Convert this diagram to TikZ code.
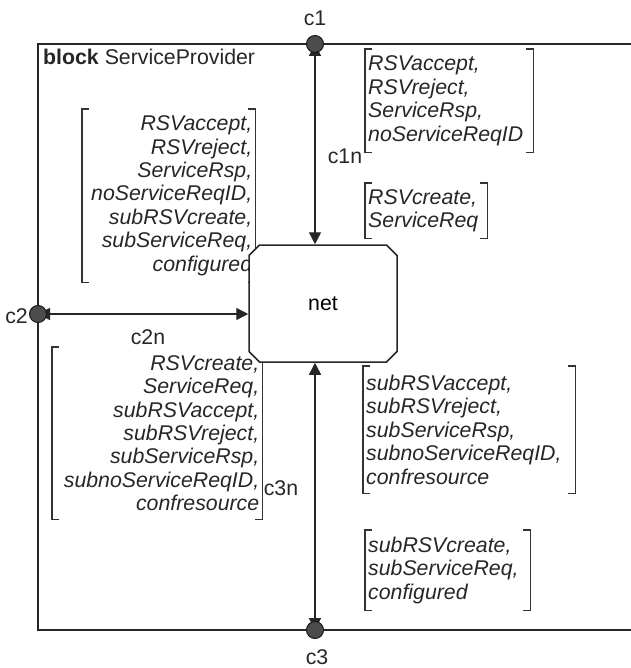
\documentclass[tikz,border=0pt]{standalone}
\usepackage{fontspec}
\setmainfont{Liberation Sans}
\usepackage{tikz}
\usetikzlibrary{arrows.meta, positioning, shapes.misc}

\newcommand{\sigfont}{\fontsize{21.3}{23.4}\selectfont\itshape}
\newcommand{\lblfont}{\fontsize{21.3}{23.4}\selectfont}
\newcommand{\sigbrackets}[1]{%
  \draw[sigbracket] ([xshift=7pt]#1.north west) -- (#1.north west) -- (#1.south west) -- ([xshift=7pt]#1.south west);
  \draw[sigbracket] ([xshift=-7pt]#1.north east) -- (#1.north east) -- (#1.south east) -- ([xshift=-7pt]#1.south east);}

\tikzset{
    blockframe/.style={draw=black!85, line width=1.6pt},
    lbl/.style={font=\lblfont, text=black!85, inner sep=0pt},
    siglist/.style={font=\sigfont, text=black!85, inner xsep=3pt, inner ysep=0pt, anchor=north west},
    sigbracket/.style={draw=black!80, line width=1.3pt},
    netbox/.style={chamfered rectangle, chamfered rectangle xsep=13pt, draw=black!85, line width=1.5pt, fill=white, minimum width=148pt, minimum height=117pt, inner sep=0pt, font=\lblfont},
    chan/.style={{Triangle[length=12pt,width=12pt]}-{Triangle[length=12pt,width=12pt]}, draw=black!85, fill=black!85, line width=1.4pt},
    port/.style={circle, fill=black!70, draw=black!90, line width=1pt, minimum size=17pt, inner sep=0pt},
}

\begin{document}
\begin{tikzpicture}[x=1pt, y=-1pt]
    \useasboundingbox (0,0) rectangle (630,668);

    % Block frame (open to the right)
    \draw[blockframe] (650,44) -- (38,44) -- (38,630) -- (650,630);
    \node[lbl, anchor=base west] (title) at (43,65) {\textbf{block} ServiceProvider};

    % Ports
    \coordinate (c1) at (315,44);
    \coordinate (c2) at (38,314);
    \coordinate (c3) at (315,630);
    \node[lbl] (c1lbl) at (315,18) {c1};
    \node[lbl, anchor=east] (c2lbl) at (28,316) {c2};
    \node[lbl] (c3lbl) at (317,657) {c3};

    % Signal lists
    \node[siglist, align=left, text width=162pt, minimum height=103pt] (c1up) at (365,49)
        {RSVaccept,\\RSVreject,\\ServiceRsp,\\noServiceReqID};
    \node[siglist, align=left, text width=116pt, minimum height=55pt] (c1down) at (365,183)
        {RSVcreate,\\ServiceReq};
    \node[siglist, align=right, text width=167pt, minimum height=173pt] (c2out) at (82,109)
        {RSVaccept,\\RSVreject,\\ServiceRsp,\\noServiceReqID,\\subRSVcreate,\\subServiceReq,\\configured};
    \node[siglist, align=right, text width=204pt, minimum height=172pt] (c2in) at (52,347)
        {RSVcreate,\\ServiceReq,\\subRSVaccept,\\subRSVreject,\\subServiceRsp,\\subnoServiceReqID,\\confresource};
    \node[siglist, align=left, text width=206pt, minimum height=127pt] (c3up) at (363,366)
        {subRSVaccept,\\subRSVreject,\\subServiceRsp,\\subnoServiceReqID,\\confresource};
    \node[siglist, align=left, text width=159pt, minimum height=80pt] (c3down) at (365,530)
        {subRSVcreate,\\subServiceReq,\\configured};
    \sigbrackets{c1up}
    \sigbrackets{c1down}
    \sigbrackets{c2out}
    \sigbrackets{c2in}
    \sigbrackets{c3up}
    \sigbrackets{c3down}

    % Net
    \node[netbox] (net) at (323,303.5) {net};

    % Channels
    \draw[chan] (c1) -- (c1 |- net.north);
    \draw[chan] (c2) -- (c2 -| net.west);
    \draw[chan] (c3) -- (c3 |- net.south);
    \node[lbl] (c1n) at (345,156) {c1n};
    \node[lbl] (c2n) at (148,337) {c2n};
    \node[lbl] (c3n) at (281,488) {c3n};

    % Port symbols
    \node[port] (p1) at (c1) {};
    \node[port] (p2) at (c2) {};
    \node[port] (p3) at (c3) {};
\end{tikzpicture}
\end{document}
